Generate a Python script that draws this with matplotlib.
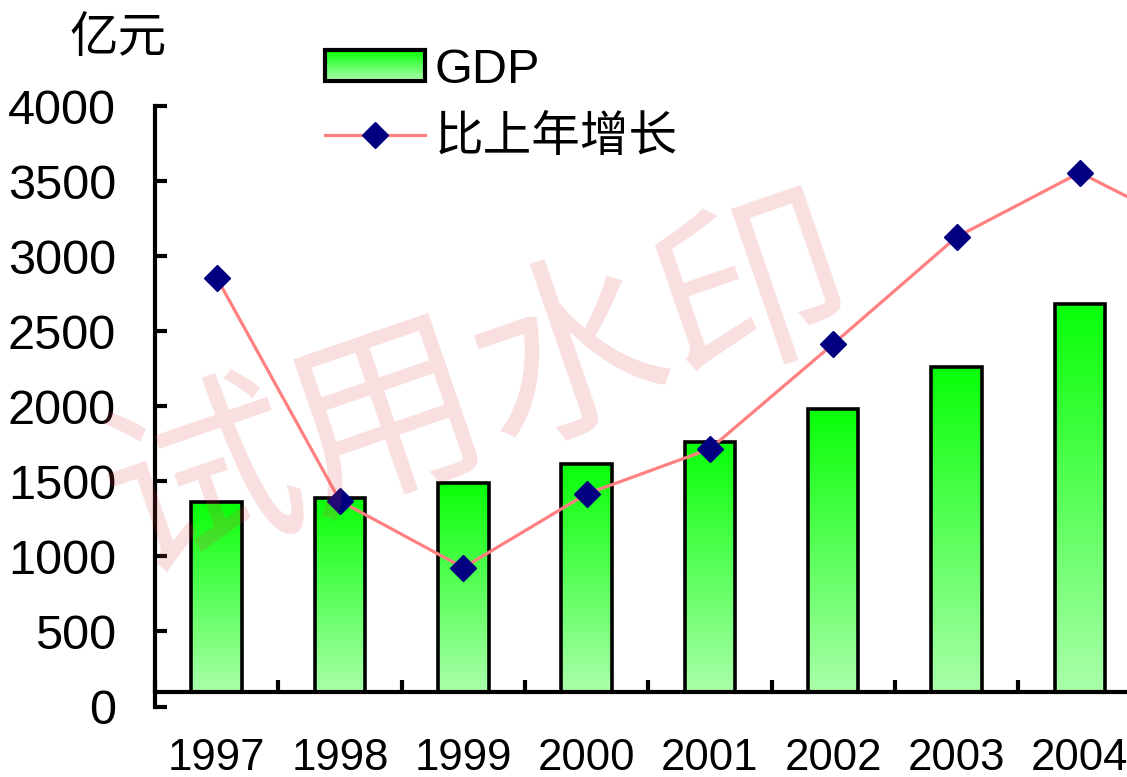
import numpy as np
import matplotlib
matplotlib.use("Agg")
from matplotlib import pyplot as plt
from matplotlib.patches import Rectangle
from matplotlib.lines import Line2D
from matplotlib.legend_handler import HandlerBase
from matplotlib.colors import to_rgb

plt.rcParams['font.family'] = ['Liberation Sans', 'Noto Sans CJK SC', 'DejaVu Sans']

# data
years = ['1997', '1998', '1999', '2000', '2001', '2002', '2003', '2004']
gdp = [1362, 1389, 1489, 1615, 1762, 1982, 2262, 2682]
# last value belongs to the next year, only the start of its segment shows
growth = [2857, 1369, 925, 1416, 1716, 2415, 3127, 3556, 3140]
yticks = [0, 500, 1000, 1500, 2000, 2500, 3000, 3500, 4000]

cross = 95  # where the category axis crosses the value axis
top_green = to_rgb('#08ff08')
low_green = to_rgb('#aaffaa')


def gradient(n=256):
    t = np.linspace(0, 1, n)[:, None]
    return (1 - t) * np.array(top_green) + t * np.array(low_green)


class HandlerGradient(HandlerBase):
    def create_artists(self, legend, orig_handle, xdescent, ydescent,
                       width, height, fontsize, trans):
        arts = []
        cols = gradient(20)
        n = len(cols)
        for i, c in enumerate(cols):
            y0 = -ydescent + height * (1 - (i + 1) / n)
            arts.append(Rectangle((-xdescent, y0), width, height / n + 0.3,
                                  facecolor=c, edgecolor='none', transform=trans))
        arts.append(Rectangle((-xdescent, -ydescent), width, height,
                              facecolor='none', edgecolor='black', lw=3,
                              transform=trans))
        return arts


fig = plt.figure(figsize=(11.27, 7.77), dpi=100)
ax = fig.add_axes([155 / 1127, 1 - 706.5 / 777, 1 - 155 / 1127, (706.5 - 106) / 777])

x = np.arange(len(years))
bars = ax.bar(x, np.array(gdp) - cross, bottom=cross, width=0.41,
              facecolor='none', edgecolor='black', lw=2.6, zorder=3)
grad = gradient()[:, None, :]
for p in bars:
    ax.imshow(grad, extent=(p.get_x(), p.get_x() + p.get_width(),
                            p.get_y(), p.get_y() + p.get_height()),
              aspect='auto', interpolation='bilinear', zorder=2)

ax.plot(np.arange(len(growth)), growth, color='#ff8080', lw=2.3,
        marker='D', ms=13, mfc='#000080', mec='#000080', zorder=4)

for s in ['top', 'right']:
    ax.spines[s].set_visible(False)
ax.spines['bottom'].set_position(('data', cross))
ax.spines['left'].set_linewidth(3)
ax.spines['bottom'].set_linewidth(3)

ax.set_yticks(yticks)
ax.tick_params(axis='y', direction='in', length=8.6, width=3, labelsize=35, pad=28)
ax.set_xticks(np.arange(len(years) + 1) - 0.5)
ax.set_xticklabels([])
ax.set_xticks(x, minor=True)
ax.set_xticklabels(years, minor=True)
ax.tick_params(axis='x', which='major', direction='in', length=8.6, width=3)
ax.tick_params(axis='x', which='minor', length=0, pad=33, labelsize=31.5)

# limits last, set_xticks would widen them
ax.set_xlim(-0.5, (1127 - 216) / 123.4)
ax.set_ylim(0, 4000)

fig.text(118 / 1127, 1 - 38 / 777, '亿元', ha='center', va='center',
         fontsize=35, family=['Noto Sans CJK SC', 'DejaVu Sans'])

gdp_handle = Rectangle((0, 0), 1, 1)
line_handle = Line2D([], [], color='#ff8080', lw=2.3, marker='D', ms=13,
                     mfc='#000080', mec='#000080')
ax.legend([gdp_handle, line_handle], ['GDP', '比上年增长'],
          handler_map={Rectangle: HandlerGradient()},
          loc='upper left', bbox_to_anchor=(325 / 1127, 1 - 48 / 777),
          bbox_transform=fig.transFigure, frameon=False, borderpad=0,
          borderaxespad=0, fontsize=35, handlelength=2.06, handleheight=0.6,
          handletextpad=0.2, labelspacing=0.47, numpoints=1)

# watermark on top of everything
fig.text(480 / 1127, 1 - 392 / 777, '试用水印', ha='center', va='center',
         rotation=19, fontsize=140, color=(0.86, 0.24, 0.24), alpha=0.17,
         family=['Noto Sans CJK SC', 'DejaVu Sans'], zorder=10)

fig.savefig('out.png', dpi=100)
